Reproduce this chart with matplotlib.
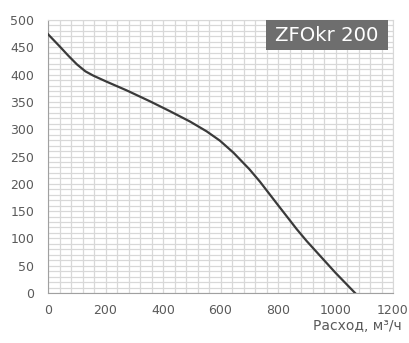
import numpy as np
import matplotlib.pyplot as plt
from matplotlib.ticker import MultipleLocator
from matplotlib.patches import Rectangle

# Pressure curve
flow = [0, 40, 70, 100, 130, 158, 204, 274, 355, 424, 494, 552, 598, 645, 700, 737,
        800, 865, 900, 950, 1000, 1068]
pressure = [474, 452, 435, 419, 406, 398, 387, 371, 351, 333, 314, 296, 279, 257, 227, 204,
            161, 117, 95, 66, 37, 0]

x_ticks = [0, 200, 400, 600, 800, 1000, 1200]
y_ticks = [0, 50, 100, 150, 200, 250, 300, 350, 400, 450, 500]
model = 'ZFOkr 200'

plt.rcParams['font.family'] = ['DejaVu Sans']

fig = plt.figure(figsize=(4.09, 3.43), dpi=100)
ax = fig.add_axes([48 / 409, 1 - 293 / 343, 345 / 409, 273 / 343])

ax.plot(flow, pressure, color='#3a3a3a', lw=1.6, zorder=3)

ax.set_xlim(0, 1200)
ax.set_ylim(0, 500)
ax.set_xticks(x_ticks)
ax.set_yticks(y_ticks)
ax.xaxis.set_minor_locator(MultipleLocator(40))
ax.yaxis.set_minor_locator(MultipleLocator(10))
ax.grid(which='both', color='#d8d8d8', lw=0.9)
ax.set_axisbelow(True)
ax.tick_params(which='both', length=0, labelsize=9, colors='#5a5a5a')
ax.tick_params(axis='y', pad=10)
ax.tick_params(axis='x', pad=8)

for side in ['top', 'right']:
    ax.spines[side].set_color('#d8d8d8')
for side in ['left', 'bottom']:
    ax.spines[side].set_color('#a0a0a0')

# model label box in the top right corner
fig.patches.append(Rectangle((266 / 409, 1 - 50 / 343), 122 / 409, 30 / 343,
                             transform=fig.transFigure, fc='#6e6e6e', ec='none', zorder=5))
fig.text(327 / 409, 1 - 35.5 / 343, model, ha='center', va='center',
         fontsize=14.2, color='white', zorder=6)

fig.text(402 / 409, 1 - 326 / 343, 'Расход, м³/ч', ha='right', va='center',
         fontsize=10, color='#5a5a5a')

fig.savefig('out.png', dpi=100)
